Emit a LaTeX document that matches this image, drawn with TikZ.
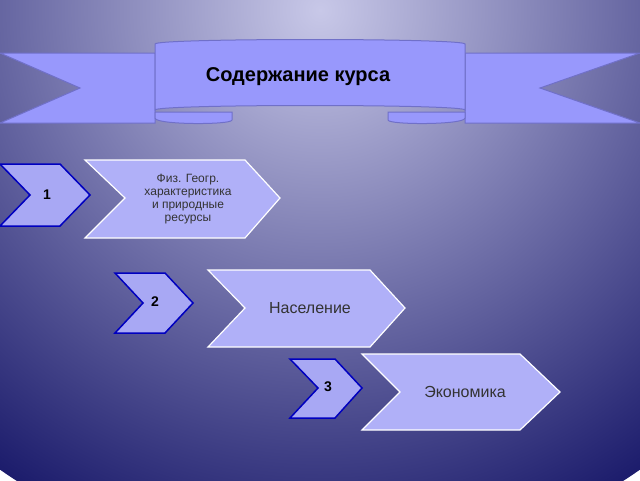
\documentclass[tikz,border=0pt]{standalone}
\usepackage{fontspec}
\setmainfont{Liberation Sans}
\begin{document}
\begin{tikzpicture}[x=1pt,y=-1pt,
  rib/.style={fill=rib,draw=ribd,line width=1pt},
  small/.style={fill=lav,draw=blue!75!black,line width=1.5pt},
  big/.style={fill=lav2,draw=white,line width=1.2pt},
  lab/.style={font=\fontsize{13}{13}\selectfont,text=black!80}]
\definecolor{rib}{HTML}{9898FC}
\definecolor{ribd}{HTML}{7070C8}
\definecolor{lav}{HTML}{A8A8F4}
\definecolor{lav2}{HTML}{B0B0F8}
\definecolor{bgin}{HTML}{C8C8E8}
\definecolor{bgout}{HTML}{1C1C6C}
\useasboundingbox (0,0) rectangle (640,480);
\begin{scope}
\clip (0,0) rectangle (640,480);
\shade[inner color=bgin,outer color=bgout] (320,10) circle (560);
\end{scope}
% ribbon sides
\draw[rib] (0,53) -- (155,53) -- (155,123) -- (0,123) -- (80,88) -- cycle;
\draw[rib] (640,53) -- (465,53) -- (465,123) -- (640,123) -- (540,88) -- cycle;
\draw[rib] (155,112) -- (232,112) -- (232,120) .. controls (232,125) and (155,125) .. (155,118) -- cycle;
\draw[rib] (465,112) -- (388,112) -- (388,120) .. controls (388,125) and (465,125) .. (465,118) -- cycle;
\draw[rib] (155,44) .. controls (155,38) and (465,38) .. (465,44) -- (465,110) .. controls (465,104) and (155,104) .. (155,110) -- cycle;
\node[font=\bfseries\fontsize{20}{20}\selectfont] (title) at (298,77) {Содержание курса};
% chevrons 1
\draw[small] (0,164) -- (60,164) -- (90,195) -- (60,226) -- (0,226) -- (30,195) -- cycle;
\node[font=\bfseries\fontsize{14}{14}\selectfont] (n1) at (47,195) {1};
\draw[big] (85,160) -- (245,160) -- (280,198) -- (245,238) -- (85,238) -- (125,198) -- cycle;
\node[lab,font=\fontsize{12}{13}\selectfont,align=center] (t1) at (188,199) {Физ. Геогр.\\характеристика\\и природные\\ресурсы};
% chevrons 2
\draw[small] (115,273) -- (165,273) -- (193,303) -- (165,333) -- (115,333) -- (143,303) -- cycle;
\node[font=\bfseries\fontsize{14}{14}\selectfont] (n2) at (155,302) {2};
\draw[big] (208,270) -- (370,270) -- (405,308) -- (370,347) -- (208,347) -- (245,308) -- cycle;
\node[lab,font=\fontsize{16}{16}\selectfont] (t2) at (310,308) {Население};
% chevrons 3
\draw[small] (290,359) -- (335,359) -- (362,388) -- (335,418) -- (290,418) -- (318,388) -- cycle;
\node[font=\bfseries\fontsize{14}{14}\selectfont] (n3) at (328,387) {3};
\draw[big] (362,354) -- (520,354) -- (560,392) -- (520,430) -- (362,430) -- (400,392) -- cycle;
\node[lab,font=\fontsize{16}{16}\selectfont] (t3) at (465,392) {Экономика};
\end{tikzpicture}
\end{document}
